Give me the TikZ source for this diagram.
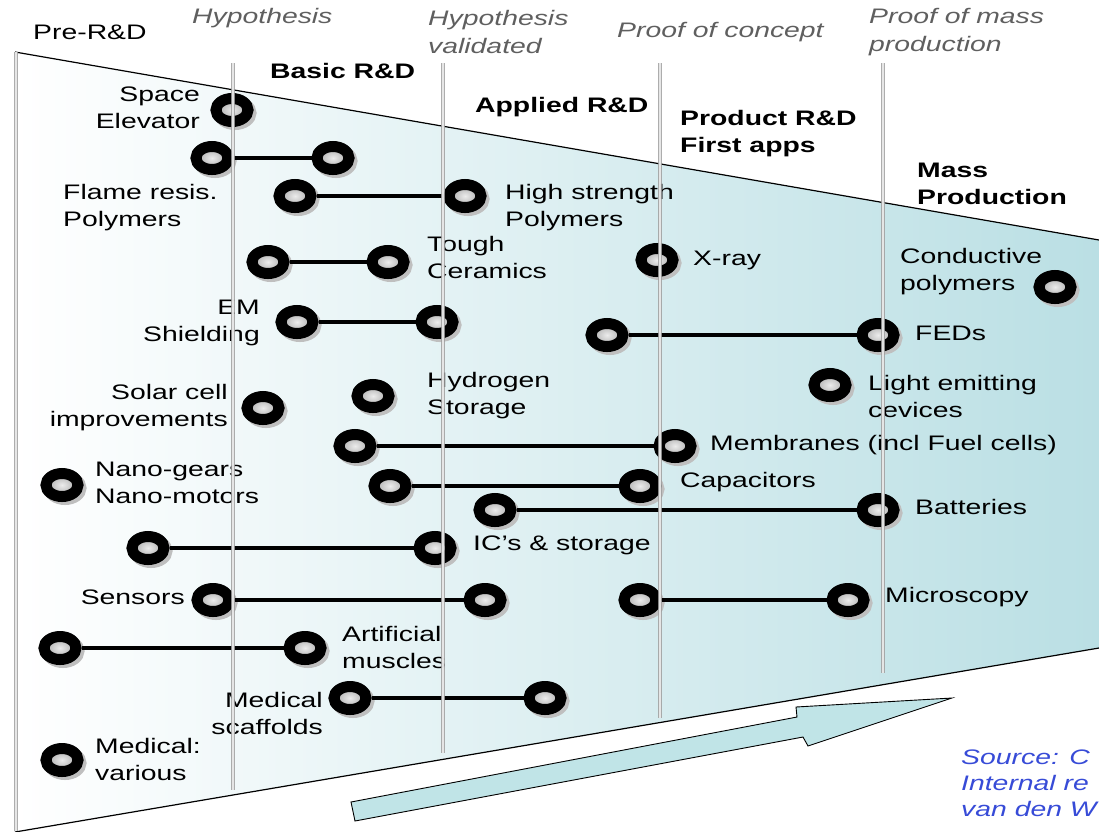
\documentclass[tikz,border=0pt]{standalone}
\usepackage{fontspec}
\setmainfont{Liberation Sans}[FakeStretch=1.35]
\usepackage{xcolor}
\usepackage{tikz}
\usetikzlibrary{positioning,shapes.geometric}
\definecolor{funnel}{RGB}{186,223,228}
\definecolor{arrowfill}{RGB}{192,228,231}
\definecolor{srcblue}{RGB}{55,75,215}
\definecolor{gate}{RGB}{95,95,95}

\begin{document}
\begin{tikzpicture}[
      x=1pt,y=-1pt,
      ring/.style={ellipse,draw=black,line width=11pt,minimum width=32pt,minimum height=23pt,inner sep=0pt,
        inner color=gray!15,outer color=gray!70,
        preaction={draw=gray!50,transform canvas={shift={(3pt,-3pt)}}}},
      link/.style={draw=black,line width=3.5pt},
      lbl/.style={inner sep=0pt,align=left,font=\fontsize{21}{27}\selectfont},
      phase/.style={lbl,font=\fontsize{21}{27}\selectfont\bfseries},
      gatelbl/.style={lbl,font=\fontsize{21}{28}\selectfont\itshape,text=gate},
      vline/.style={draw=gray!75,line width=0.8pt,double=gray!12,double distance=1.8pt,opacity=0.85}]
    \useasboundingbox (0,0) rectangle (1099,831);
    % funnel
    \shade[left color=white,right color=funnel] (15,52) -- (1099,240) -- (1099,648) -- (15,832) -- cycle;
    \draw[line width=1.2pt] (15,52) -- (1099,240);
    \draw[line width=1.2pt] (15,832) -- (1099,648);
    \coordinate (lt) at (16,52);
    \coordinate (lb) at (16,831);
    % progress arrow
    \draw[fill=arrowfill,line width=0.9pt,line join=miter] (351,802) -- (797,717) -- (796,707) -- (952,698) -- (808,746) -- (803,737) -- (355,821) -- cycle;
    % technologies
    \foreach \n/\x/\y in {se/232/110, fr1/212/158, fr2/333/158, hs1/295/196, hs2/465/196,
        tc1/268/262, tc2/388/262, xr/657/260, cp/1055/287, em1/297/322, em2/437/322,
        fe1/607/335, fe2/878/335, sc/263/408, hy/373/396, le/830/385, mb1/355/446, mb2/675/446,
        ng/62/485, ca1/390/486, ca2/640/486, ba1/495/510, ba2/878/510, ic1/148/548, ic2/435/548,
        sn1/213/600, sn2/485/600, mi1/640/600, mi2/848/600, am1/60/648, am2/305/648,
        ms1/350/698, ms2/545/698, mv/62/760}
      \node[ring] (\n) at (\x,\y) {};
    \foreach \a/\b in {fr1/fr2, hs1/hs2, tc1/tc2, em1/em2, fe1/fe2, mb1/mb2, ca1/ca2,
        ba1/ba2, ic1/ic2, sn1/sn2, mi1/mi2, am1/am2, ms1/ms2}
      \draw[link] (\a) -- (\b);
    \node[lbl,align=right,anchor=east] (lse) at (200,108) {Space\\Elevator};
    \node[lbl,anchor=west] (lfr) at (63,208) {Flame resis.\\Polymers};
    \node[lbl,anchor=west] (lhs) at (505,208) {High strength\\Polymers};
    \node[lbl,anchor=west] (ltc) at (427,257) {Tough\\Ceramics};
    \node[lbl,anchor=west] (lxr) at (693,260) {X-ray};
    \node[lbl,anchor=west] (lcp) at (900,272) {Conductive\\polymers};
    \node[lbl,align=right,anchor=east] (lem) at (260,323) {EM\\Shielding};
    \node[lbl,anchor=west] (lfe) at (915,333) {FEDs};
    \node[lbl,align=right,anchor=east] (lsc) at (228,408) {Solar cell\\improvements};
    \node[lbl,anchor=west] (lhy) at (427,396) {Hydrogen\\Storage};
    \node[lbl,anchor=west] (lle) at (868,396) {Light emitting\\cevices};
    \node[lbl,anchor=west] (lmb) at (710,445) {Membranes (incl Fuel cells)};
    \node[lbl,anchor=west] (lng) at (95,483) {Nano-gears\\Nano-motors};
    \node[lbl,anchor=west] (lca) at (680,482) {Capacitors};
    \node[lbl,anchor=west] (lba) at (915,507) {Batteries};
    \node[lbl,anchor=west] (lic) at (473,545) {IC's \& storage};
    \node[lbl,anchor=east] (lsn) at (185,597) {Sensors};
    \node[lbl,anchor=west] (lmi) at (885,597) {Microscopy};
    \node[lbl,anchor=west] (lam) at (342,647) {Artificial\\muscles};
    \node[lbl,align=right,anchor=east] (lms) at (323,713) {Medical\\scaffolds};
    \node[lbl,anchor=west] (lmv) at (95,759) {Medical:\\various};
    % phases and milestones
    \node[lbl,anchor=west] (pre) at (33,32) {Pre-R\&D};
    \node[phase,anchor=west] (basic) at (270,71) {Basic R\&D};
    \node[phase,anchor=west] (applied) at (475,107) {Applied R\&D};
    \node[phase,anchor=west] (product) at (680,134) {Product R\&D\\First apps};
    \node[phase,anchor=west] (mass) at (917,184) {Mass\\Production};
    \node[gatelbl,anchor=west] (g1) at (192,18) {Hypothesis};
    \node[gatelbl,anchor=west] (g2) at (428,32) {Hypothesis\\validated};
    \node[gatelbl,anchor=west] (g3) at (617,32) {Proof of concept};
    \node[gatelbl,anchor=west] (g4) at (869,32) {Proof of mass\\production};
    \node[lbl,font=\fontsize{21}{26}\selectfont\itshape,text=srcblue,anchor=west] (src) at (961,783) {Source: C\\Internal re\\van den W};
    % phase borders
    \draw[vline] (lt) -- (lb);
    \foreach \x/\y in {233/790, 443/753, 660/718, 883/673}
      \draw[vline] (\x,63) -- (\x,\y);
  \end{tikzpicture}
\end{document}
